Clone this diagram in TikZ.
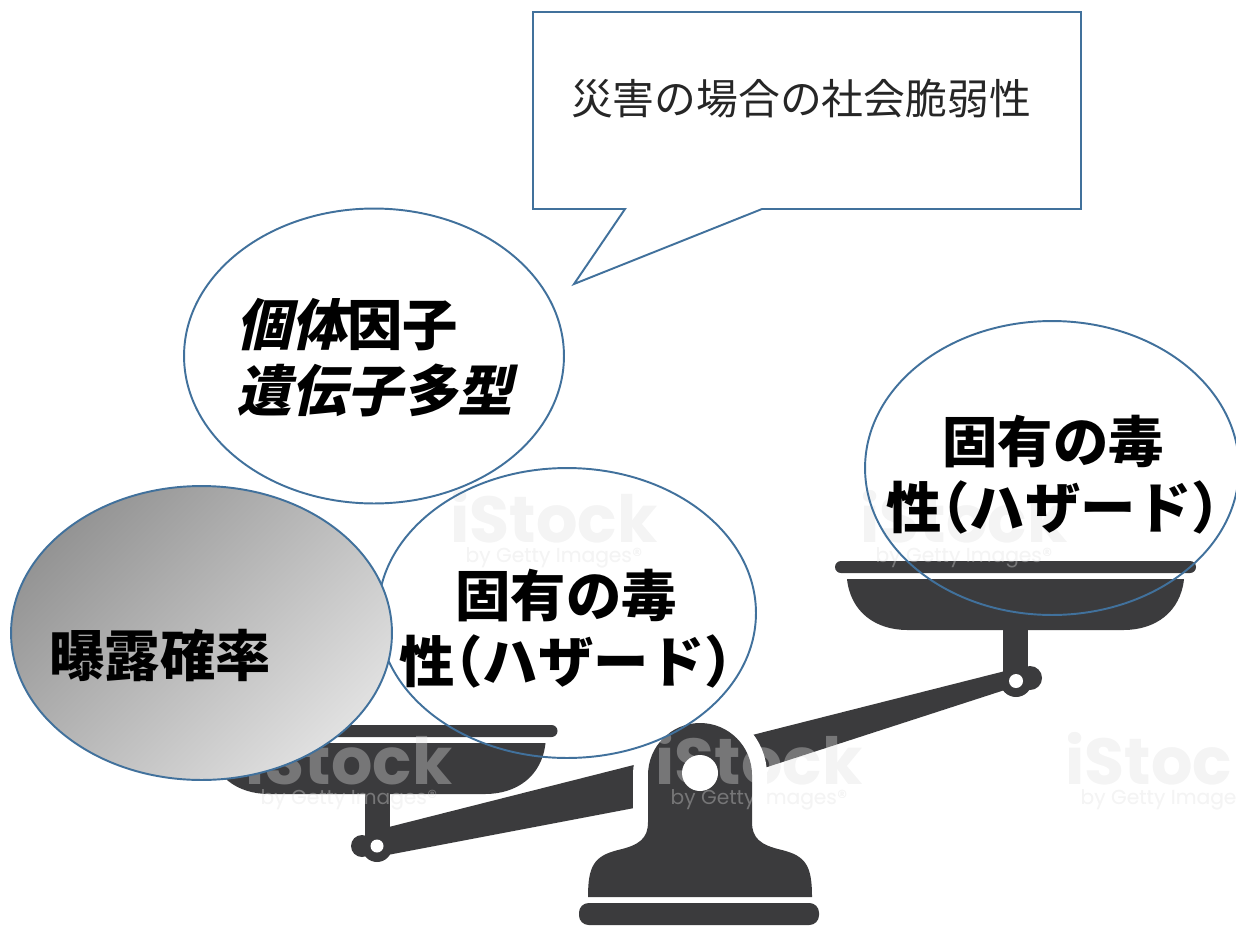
\documentclass[tikz,border=0pt]{standalone}
\usepackage{fontspec}
\usetikzlibrary{shapes.geometric}
\newfontfamily\jpfont{Noto Sans CJK JP}
\newfontfamily\jpslant{Noto Sans CJK JP}[FakeSlant=0.22]
\newfontfamily\wmfont{Poppins}
\definecolor{edgeblue}{RGB}{65,113,156}
\definecolor{iron}{RGB}{59,59,61}

\tikzset{
  bubble/.style={ellipse, draw=edgeblue, line width=1.1pt, inner sep=0pt},
  bigtext/.style={font=\jpfont\bfseries\fontsize{31.5}{37.5}\selectfont,
                  inner sep=0pt, align=center},
  % stock-photo watermark: logo with byline underneath
  wmark/.pic={
    \node[font=\wmfont\bfseries\fontsize{37}{37}\selectfont, inner sep=0pt] (-logo) at (0,0) {iStock};
    \node[font=\wmfont\fontsize{11.5}{11.5}\selectfont, inner sep=0pt] (-by) at (0,41) {by Getty Images®};
  },
  wmpale/.style={every node/.append style={text=black!6}},
  wmglow/.style={every node/.append style={text=white, text opacity=0.3}},
  % one pan of the balance: rim bar and bowl
  scalepan/.pic={
    \fill[iron, rounded corners=3.4pt] (-180.5,0) rectangle (180.5,12);
    \fill[iron] (-168.5,18) -- (168.5,18)
      .. controls (165,51) and (140,69) .. (108,69) -- (-108,69)
      .. controls (-140,69) and (-165,51) .. cycle;
  },
}

\begin{document}
\begin{tikzpicture}[x=0.02cm, y=-0.02cm]
\useasboundingbox (0,0) rectangle (1236,926);
\fill[white] (0,0) rectangle (1236,926);

% faint watermark on the white ground
\foreach \wx/\wy [count=\k] in {554/517, 964/517, 349/759, 759/759, 1169/759}
  \pic[wmpale] (wp\k) at (\wx,\wy) {wmark};

% ---- balance ----
\pic (panleft) at (377,725) {scalepan};
\pic (panright) at (1015.5,561) {scalepan};
% hangers
\fill[iron] (365,780) rectangle (390,848);
\fill[iron] (1003,620) rectangle (1028,681);
% beam
\fill[iron] (377,830) -- (1017,668) -- (1017,686) -- (650,805) -- (377,857) -- cycle;
% pivot knobs
\fill[iron] (377,847) circle[radius=15] (362,846) circle[radius=11];
\fill[iron] (1016,681) circle[radius=16] (1030,678) circle[radius=12];
\fill[white] (377,846) circle[radius=6.5] (1016,681) circle[radius=7];
% stand: white halo, then body
\def\standpath{(588,897) .. controls (588,866) and (594,856) .. (618,850)
  .. controls (640,845) and (648,838) .. (648,822) -- (648,775)
  arc[start angle=180, end angle=360, radius=52] -- (752,822)
  .. controls (752,838) and (760,845) .. (782,850)
  .. controls (806,856) and (812,866) .. (812,897) -- cycle}
\path[fill=white, draw=white, line width=0.6cm, line join=round] \standpath;
\fill[iron] \standpath;
\fill[white] (700,773) circle[radius=18];
\fill[iron, rounded corners=5.5pt] (579,903) rectangle (819,925);

% watermark showing through the dark parts
\foreach \wx/\wy [count=\k] in {554/517, 964/517, 349/759, 759/759, 1169/759}
  \pic[wmglow] (wg\k) at (\wx,\wy) {wmark};

% ---- bubbles ----
\node[bubble, fill=white, minimum width=7.6cm, minimum height=5.9cm] (kotai) at (374,356) {};
\node[bubble, minimum width=7.56cm, minimum height=5.8cm] (hazardmid) at (567,613) {};
\node[bubble, minimum width=7.48cm, minimum height=5.88cm] (hazardright) at (1052,468) {};
\node[bubble, top color=black!42, bottom color=black!12, shading angle=45,
      minimum width=7.62cm, minimum height=5.88cm] (exposure) at (201.5,633) {};

\node[bigtext, align=left, anchor=west] (kotaitext) at (236,358)
  {{\jpslant\bfseries 個体}因子\\{\jpslant\bfseries 遺伝子多型}};
\node[bigtext] (hazardmidtext) at (566,629)
  {固有の毒\\性\kern-0.5em（ハザード）\kern-0.5em};
\node[bigtext] (hazardrighttext) at (1053,475)
  {固有の毒\\性\kern-0.5em（ハザード）\kern-0.5em};
\node[bigtext] (exposuretext) at (160,655) {曝露確率};

% ---- speech callout ----
\coordinate (tip) at (574,284);
\draw[edgeblue, line width=1.1pt, fill=white, line join=miter]
  (533,12) -- (1081,12) -- (1081,209) -- (762,209) -- (tip) -- (625,209) -- (533,209) -- cycle;
\node[font=\jpfont\fontsize{23.8}{28}\selectfont, text=black!85, inner sep=0pt] (callouttext) at (801,99)
  {災害の場合の社会脆弱性};
\end{tikzpicture}
\end{document}
